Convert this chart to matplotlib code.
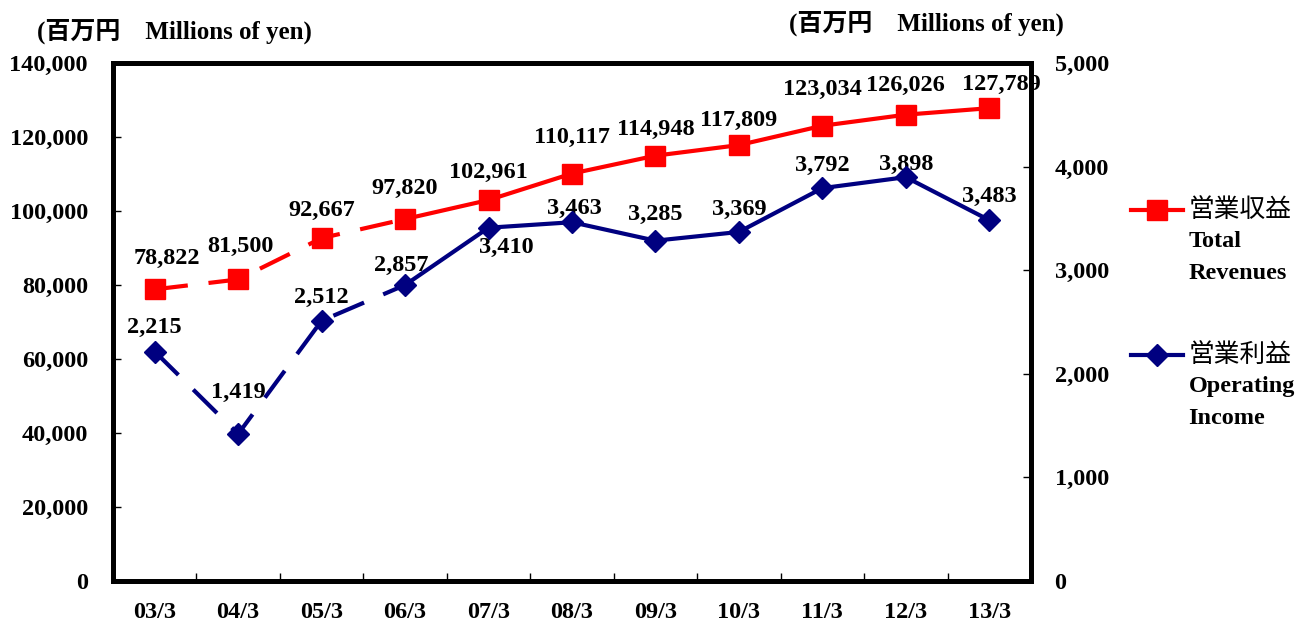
import matplotlib.pyplot as plt
from matplotlib.lines import Line2D
import numpy as np

plt.rcParams['font.family'] = ['Liberation Serif', 'Noto Sans CJK JP']
plt.rcParams['font.weight'] = 'bold'

periods = ['03/3', '04/3', '05/3', '06/3', '07/3', '08/3', '09/3', '10/3', '11/3', '12/3', '13/3']
revenues = [78822, 81500, 92667, 97820, 102961, 110117, 114948, 117809, 123034, 126026, 127789]
op_income = [2215, 1419, 2512, 2857, 3410, 3463, 3285, 3369, 3792, 3898, 3483]
split = 3  # dashed up to 06/3, solid afterwards

# label offsets in points (dx, dy)
rev_off = [(9, 22), (2, 24), (0, 20), (0, 22), (0, 20), (0, 26), (0, 19), (0, 18), (0, 26), (0, 21), (9, 17)]
inc_off = [(0, 17), (0, 30), (0, 17), (-3, 14), (13, -14), (2, 10), (0, 19), (0, 16), (0, 16), (0, 9), (0, 17)]

RED = '#ff0000'
NAVY = '#000080'
FS = 17.5

fig = plt.figure(figsize=(13.06, 6.23), dpi=100)
ax = fig.add_axes([0.0865, 0.0674, 0.7029, 0.8315])
ax2 = ax.twinx()

x = np.arange(len(periods))

def draw(axis, vals, color, marker, ms):
    axis.plot(x[:split + 1], vals[:split + 1], color=color, lw=3, dashes=(8, 5), zorder=3)
    axis.plot(x[split:], vals[split:], color=color, lw=3, zorder=3)
    axis.plot(x, vals, ls='none', marker=marker, ms=ms, color=color, zorder=4)

draw(ax, revenues, RED, 's', 14)
draw(ax2, op_income, NAVY, 'D', 11)

for xi, v, (dx, dy) in zip(x, revenues, rev_off):
    ax.annotate(f'{v:,}', (xi, v), xytext=(dx, dy), textcoords='offset points',
                ha='center', va='center', fontsize=FS, fontweight='bold')
for xi, v, (dx, dy) in zip(x, op_income, inc_off):
    ax2.annotate(f'{v:,}', (xi, v), xytext=(dx, dy), textcoords='offset points',
                 ha='center', va='center', fontsize=FS, fontweight='bold')

ax.set_xlim(-0.5, len(periods) - 0.5)
ax.set_ylim(0, 140000)
ax2.set_ylim(0, 5000)
ax.set_yticks(np.arange(0, 140001, 20000))
ax2.set_yticks(np.arange(0, 5001, 1000))
ax.yaxis.set_major_formatter(lambda v, p: f'{int(v):,}')
ax2.yaxis.set_major_formatter(lambda v, p: f'{int(v):,}')

ax.set_xticks(x)
ax.set_xticklabels(periods)
ax.set_xticks(x[:-1] + 0.5, minor=True)
ax.tick_params(axis='x', which='major', length=0, pad=15, labelsize=FS)
ax.tick_params(axis='x', which='minor', direction='in', length=6, width=1)
ax.tick_params(axis='y', direction='in', length=6, width=1, pad=18, labelsize=FS)
ax2.tick_params(axis='y', direction='in', length=6, width=1, pad=17, labelsize=FS)

for a in (ax, ax2):
    for s in a.spines.values():
        s.set_linewidth(3.5)
    for lab in a.get_xticklabels() + a.get_yticklabels():
        lab.set_fontweight('bold')

fig.text(0.028, 0.950, '(百万円\u3000Millions of yen)', fontsize=FS + 0.5, fontweight='bold', va='center')
fig.text(0.604, 0.963, '(百万円\u3000Millions of yen)', fontsize=FS + 0.5, fontweight='bold', va='center')

# legend drawn by hand so the handle sits on the first line
legend_items = [
    (RED, 's', 14, ['営業収益', 'Total', 'Revenues'], 0.663),
    (NAVY, 'D', 11, ['営業利益', 'Operating', 'Income'], 0.430),
]
for color, marker, ms, lines, y0 in legend_items:
    fig.add_artist(Line2D([0.866, 0.906], [y0, y0], color=color, lw=3))
    fig.add_artist(Line2D([0.886], [y0], color=color, marker=marker, ms=ms))
    fig.text(0.910, y0, lines[0], fontsize=FS + 1, va='center', fontweight='normal')
    for i, t in enumerate(lines[1:]):
        fig.text(0.910, y0 - 0.051 * (i + 1), t, fontsize=FS, va='center', fontweight='bold')

fig.savefig('out.png', dpi=100)
